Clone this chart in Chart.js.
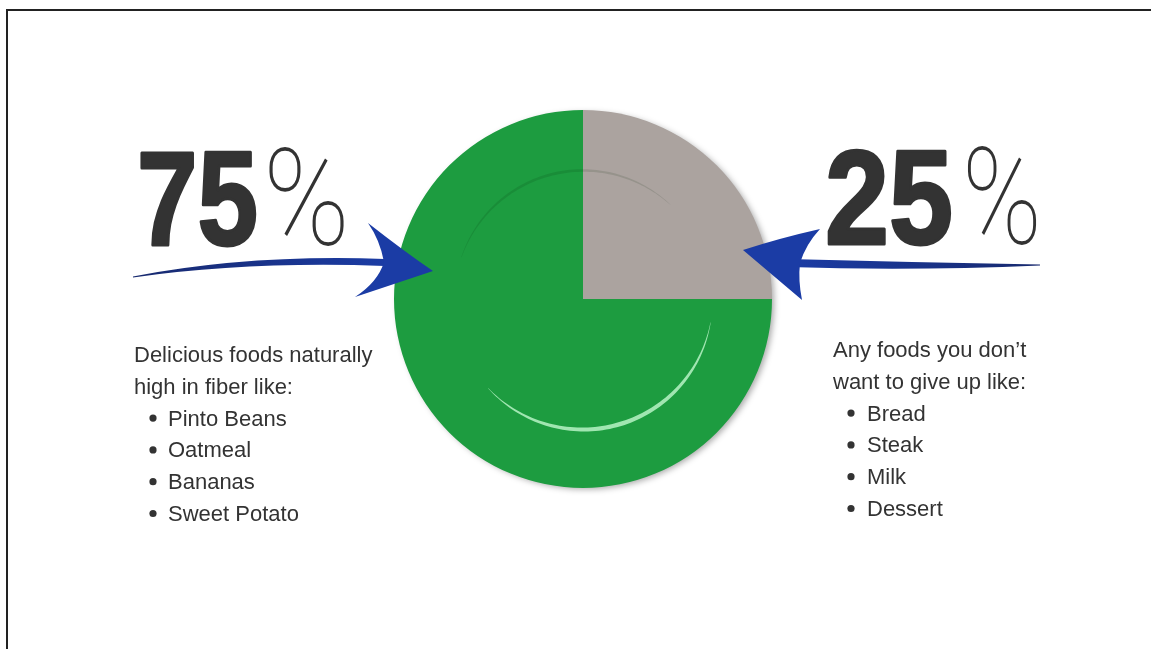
<!DOCTYPE html>
<html lang="en">
<head>
    <meta charset="UTF-8">
    <title>Fiber Plate</title>
    <script src="https://cdn.jsdelivr.net/npm/chart.js"></script>
    <style>
        html, body { margin: 0; padding: 0; background: #fff; }
        .frame { position: absolute; left: 6px; top: 9px; width: 1160px; height: 660px;
                 border-top: 2px solid #222; border-left: 2px solid #222; }
        #plateChart { position: absolute; left: 0; top: 0; }
    </style>
</head>
<body>
    <div class="frame"></div>
    <canvas id="plateChart" width="1151" height="649"></canvas>

    <script>
        // Pie data (clockwise from 12 o'clock)
        const categories = ["Foods you don't want to give up", "Foods naturally high in fiber"];
        const shares = [25, 75];
        const sliceColors = ['#aba39f', '#1d9c40'];

        // Side notes
        const fiberIntro = ['Delicious foods naturally', 'high in fiber like:'];
        const fiberFoods = ['Pinto Beans', 'Oatmeal', 'Bananas', 'Sweet Potato'];
        const otherIntro = ['Any foods you don\u2019t', 'want to give up like:'];
        const otherFoods = ['Bread', 'Steak', 'Milk', 'Dessert'];

        const TEXT = '#333333';
        const ARROW = '#1b3ca5';
        const NAVY = '#17296e';

        function drawBigNumber(ctx, num, x, base, numWidth, pctX, pctWidth) {
            ctx.save();
            ctx.fillStyle = TEXT;
            ctx.strokeStyle = TEXT;
            ctx.font = 'bold 133px "Liberation Sans", Arial, sans-serif';
            let w = ctx.measureText(num).width;
            ctx.translate(x, base);
            ctx.scale(numWidth / w, 1);
            ctx.lineWidth = 3;
            ctx.lineJoin = 'round';
            ctx.fillText(num, 0, 0);
            ctx.strokeText(num, 0, 0);
            ctx.restore();

            ctx.save();
            ctx.fillStyle = TEXT;
            ctx.font = '100 136px Roboto, "DejaVu Sans", sans-serif';
            w = ctx.measureText('%').width;
            ctx.translate(pctX, base);
            ctx.scale(pctWidth / w, 1);
            ctx.fillText('%', 0, 0);
            ctx.restore();
        }

        function drawNotes(ctx, intro, items, x, bulletX, itemX, base0, step) {
            ctx.save();
            ctx.fillStyle = TEXT;
            ctx.font = '22px "Liberation Sans", Arial, sans-serif';
            ctx.textBaseline = 'alphabetic';
            intro.forEach((t, i) => ctx.fillText(t, x, base0 + i * step));
            items.forEach((t, i) => {
                const y = base0 + (intro.length + i) * step;
                ctx.beginPath();
                ctx.arc(bulletX, y - 7.5, 3.6, 0, Math.PI * 2);
                ctx.fill();
                ctx.fillText(t, itemX, y);
            });
            ctx.restore();
        }

        // crescent-shaped rim line, thickest in the middle
        function taperedArc(ctx, cx, cy, r, a0, a1, maxW, color) {
            const n = 80;
            const outer = [], inner = [];
            for (let i = 0; i <= n; i++) {
                const t = i / n;
                const a = a0 + (a1 - a0) * t;
                const h = (0.3 + maxW * Math.sin(Math.PI * t)) / 2;
                outer.push([cx + (r + h) * Math.cos(a), cy + (r + h) * Math.sin(a)]);
                inner.push([cx + (r - h) * Math.cos(a), cy + (r - h) * Math.sin(a)]);
            }
            ctx.save();
            ctx.fillStyle = color;
            ctx.beginPath();
            outer.forEach((p, i) => i ? ctx.lineTo(p[0], p[1]) : ctx.moveTo(p[0], p[1]));
            inner.reverse().forEach(p => ctx.lineTo(p[0], p[1]));
            ctx.closePath();
            ctx.fill();
            ctx.restore();
        }

        function drawLeftArrow(ctx) {
            ctx.save();
            const g = ctx.createLinearGradient(133, 0, 390, 0);
            g.addColorStop(0, NAVY);
            g.addColorStop(1, ARROW);
            ctx.fillStyle = g;
            ctx.beginPath();
            ctx.moveTo(133, 276.5);
            ctx.quadraticCurveTo(250, 254, 385, 259);
            ctx.lineTo(385, 266);
            ctx.quadraticCurveTo(250, 261, 133, 277.5);
            ctx.closePath();
            ctx.fill();
            ctx.fillStyle = ARROW;
            ctx.beginPath();
            ctx.moveTo(368, 223);
            ctx.quadraticCurveTo(405, 252, 433, 271);
            ctx.lineTo(355, 297);
            ctx.quadraticCurveTo(378, 282, 384, 262);
            ctx.quadraticCurveTo(380, 240, 368, 223);
            ctx.closePath();
            ctx.fill();
            ctx.restore();
        }

        function drawRightArrow(ctx) {
            ctx.save();
            const g = ctx.createLinearGradient(790, 0, 1040, 0);
            g.addColorStop(0, ARROW);
            g.addColorStop(1, NAVY);
            ctx.fillStyle = g;
            ctx.beginPath();
            ctx.moveTo(788, 259);
            ctx.quadraticCurveTo(910, 262, 1040, 264.5);
            ctx.lineTo(1040, 265.5);
            ctx.quadraticCurveTo(910, 271, 788, 267);
            ctx.closePath();
            ctx.fill();
            ctx.fillStyle = ARROW;
            ctx.beginPath();
            ctx.moveTo(820, 229);
            ctx.quadraticCurveTo(780, 238, 743, 250);
            ctx.lineTo(802, 300);
            ctx.quadraticCurveTo(798, 280, 800, 263);
            ctx.quadraticCurveTo(806, 244, 820, 229);
            ctx.closePath();
            ctx.fill();
            ctx.restore();
        }

        const plateDecor = {
            id: 'plateDecor',
            beforeDatasetsDraw(chart) {
                const arc = chart.getDatasetMeta(0).data[0];
                const ctx = chart.ctx;
                ctx.save();
                ctx.shadowColor = 'rgba(0,0,0,0.35)';
                ctx.shadowBlur = 6;
                ctx.shadowOffsetX = 3;
                ctx.shadowOffsetY = 2;
                ctx.fillStyle = '#9a9a9a';
                ctx.beginPath();
                ctx.arc(arc.x, arc.y, arc.outerRadius - 1, 0, Math.PI * 2);
                ctx.fill();
                ctx.restore();
            },
            afterDatasetsDraw(chart) {
                const arc = chart.getDatasetMeta(0).data[0];
                const ctx = chart.ctx;
                const d = Math.PI / 180;
                const rimR = arc.outerRadius * 0.68;
                taperedArc(ctx, arc.x, arc.y, rimR, -161 * d, -47 * d, 2.4, 'rgba(0,30,0,0.12)');
                taperedArc(ctx, arc.x, arc.y + 1, rimR + 1, 10 * d, 137 * d, 4, 'rgba(175,238,190,0.9)');
            },
            afterDraw(chart) {
                const ctx = chart.ctx;
                drawLeftArrow(ctx);
                drawRightArrow(ctx);
                drawBigNumber(ctx, String(shares[1]), 137, 245, 121, 263, 87);
                drawBigNumber(ctx, String(shares[0]), 825, 244, 128, 962, 80);
                drawNotes(ctx, fiberIntro, fiberFoods, 134, 153, 168, 362, 31.8);
                drawNotes(ctx, otherIntro, otherFoods, 833, 851, 867, 357, 31.8);
            }
        };

        new Chart(document.getElementById('plateChart'), {
            type: 'pie',
            data: {
                labels: categories,
                datasets: [{
                    data: shares,
                    backgroundColor: sliceColors,
                    borderWidth: 0,
                    hoverOffset: 0
                }]
            },
            options: {
                responsive: false,
                animation: false,
                radius: 189,
                layout: { padding: { left: 15, right: 0, top: 0, bottom: 51 } },
                plugins: {
                    legend: { display: false },
                    tooltip: { enabled: false }
                }
            },
            plugins: [plateDecor]
        });
    </script>
</body>
</html>
